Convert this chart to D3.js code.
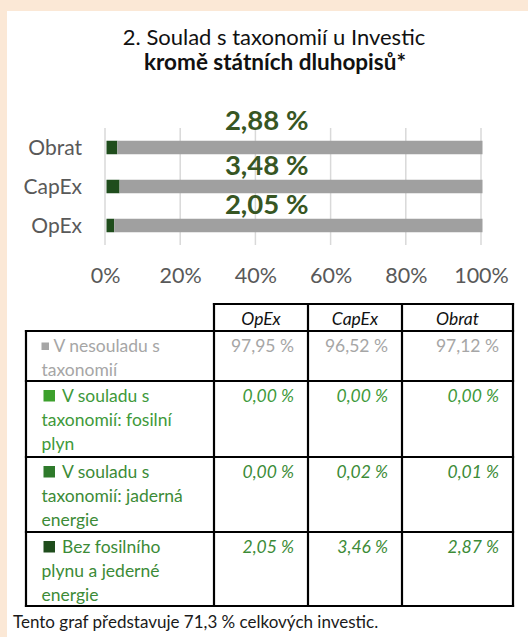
<!DOCTYPE html>
<html>
<head>
<meta charset="utf-8">
<script src="https://cdn.jsdelivr.net/npm/d3@7"></script>
<style>
  html, body { margin: 0; padding: 0; background: #fbe8d6; }
  svg { display: block; }
  text { font-family: Lato, "Open Sans", sans-serif; }
</style>
</head>
<body>
<svg id="chart" width="528" height="637"></svg>
<script>
// Categories (top to bottom in the bar chart) and table columns
const categories = ["Obrat", "CapEx", "OpEx"];
const tableColumns = ["OpEx", "CapEx", "Obrat"];

// Series values in percent, indexed like `categories`
const notAligned   = [97.12, 96.52, 97.95];
const alignedGas   = [0.00, 0.00, 0.00];
const alignedNucl  = [0.01, 0.02, 0.00];
const alignedOther = [2.87, 3.46, 2.05];

const tickValues = [0, 0.2, 0.4, 0.6, 0.8, 1.0];

const titleLine1 = "2. Soulad s taxonomií u Investic";
const titleLine2 = "kromě státních dluhopisů*";
const footnote = "Tento graf představuje 71,3 % celkových investic.";

// Legend/table rows: label lines, series and colours
const seriesRows = [
  { lines: ["V nesouladu s", "taxonomií"], values: notAligned, key: "gray" },
  { lines: ["V souladu s", "taxonomií: fosilní", "plyn"], values: alignedGas, key: "gas" },
  { lines: ["V souladu s", "taxonomií: jaderná", "energie"], values: alignedNucl, key: "nucl" },
  { lines: ["Bez fosilního", "plynu a jederné", "energie"], values: alignedOther, key: "other" }
];

const colors = {
  gray:  { mark: "#a0a0a0", text: "#a6a6a6" },
  gas:   { mark: "#3ca02c", text: "#40993a" },
  nucl:  { mark: "#2e7a2b", text: "#3c8b37" },
  other: { mark: "#1f4d1c", text: "#3c8b37" }
};
const labelColor = "#375623";

const fmt = v => v.toFixed(2).replace(".", ",") + " %";

const svg = d3.select("#chart");

// White panel over the beige page
svg.append("rect").attr("x", 7).attr("y", 11).attr("width", 521).attr("height", 626).attr("fill", "#ffffff");

// Titles
svg.append("text").attr("x", 274).attr("y", 45).attr("text-anchor", "middle")
  .attr("font-size", 22).attr("fill", "#111").text(titleLine1);
svg.append("text").attr("x", 275).attr("y", 69.5).attr("text-anchor", "middle")
  .attr("font-size", 22.5).attr("font-weight", 700).attr("fill", "#111").text(titleLine2);

// Scales
const x = d3.scaleLinear().domain([0, 1]).range([105, 481]);
const y = d3.scaleBand().domain(categories).range([128, 245]);
const barH = 13.5;

// Grid lines + tick labels
const axis = d3.axisBottom(x).tickValues(tickValues).tickFormat(d3.format(".0%")).tickSize(0);
const gx = svg.append("g").attr("transform", "translate(0,283)").call(axis);
gx.select(".domain").remove();
gx.selectAll("text").attr("dy", 0).attr("y", 0).attr("font-size", 21.5)
  .attr("font-family", "Lato, 'Open Sans', sans-serif").attr("fill", "#595959");

svg.append("g").selectAll("line").data(tickValues).join("line")
  .attr("x1", d => x(d)).attr("x2", d => x(d))
  .attr("y1", 128).attr("y2", 245)
  .attr("stroke", "#d9d9d9").attr("stroke-width", 1.5);

// Stacked bars: other-aligned, nuclear, gas, not aligned
const stackOrder = [alignedOther, alignedNucl, alignedGas, notAligned];
const stackColors = [colors.other.mark, colors.nucl.mark, colors.gas.mark, colors.gray.mark];
const table = categories.map((c, i) => {
  const row = { cat: c };
  stackOrder.forEach((s, k) => row["s" + k] = s[i] / 100);
  return row;
});
const stack = d3.stack().keys(stackOrder.map((_, k) => "s" + k));
const layers = stack(table);

svg.append("g").selectAll("g").data(layers).join("g")
  .attr("fill", (d, k) => stackColors[k])
  .selectAll("rect").data(d => d).join("rect")
  .attr("x", d => x(d[0]) + 1.5)
  .attr("width", d => Math.max(0, x(d[1]) - x(d[0])))
  .attr("y", d => y(d.data.cat) + (y.bandwidth() - barH) / 2)
  .attr("height", barH);

// Category labels
svg.append("g").selectAll("text").data(categories).join("text")
  .attr("x", 82).attr("y", d => y(d) + y.bandwidth() / 2 + 7.5)
  .attr("text-anchor", "end").attr("font-size", 21).attr("fill", "#595959")
  .text(d => d);

// Aligned-share labels above each bar
const alignedTotal = categories.map((c, i) => alignedOther[i] + alignedNucl[i] + alignedGas[i]);
const labelNudge = { Obrat: -6, CapEx: 0, OpEx: 0 };
svg.append("g").selectAll("text").data(categories).join("text")
  .attr("x", x(0.43))
  .attr("y", d => y(d) + (y.bandwidth() - barH) / 2 - 5 + labelNudge[d])
  .attr("text-anchor", "middle").attr("font-size", 27.5).attr("font-weight", 700)
  .attr("fill", labelColor)
  .text((d, i) => fmt(alignedTotal[i]));

// ---------- Table ----------
const colX = [26, 214, 308, 402, 513];
const headTop = 304, headBottom = 331;
const rowBounds = [331, 381, 457, 532, 606];
const fs = 17.5;
const tg = svg.append("g");

// Header text
tg.selectAll("text.head").data(tableColumns).join("text").attr("class", "head")
  .attr("x", (d, i) => (colX[i + 1] + colX[i + 2]) / 2)
  .attr("y", headBottom - 6.5)
  .attr("text-anchor", "middle").attr("font-size", fs).attr("font-style", "italic")
  .attr("fill", "#111").text(d => d);

// Row contents
seriesRows.forEach((row, r) => {
  const top = rowBounds[r];
  const c = colors[row.key];
  const base = top + 20.5;
  const isGray = row.key === "gray";
  // legend marker
  const ms = isGray ? 7.5 : 11.5;
  tg.append("rect")
    .attr("x", isGray ? 41.5 : 43.5).attr("y", base - ms - (isGray ? 1.5 : 0))
    .attr("width", ms).attr("height", ms).attr("fill", isGray ? "#a6a6a6" : c.mark);
  row.lines.forEach((line, li) => {
    tg.append("text")
      .attr("x", li === 0 ? (isGray ? 53.5 : 62) : 41.5)
      .attr("y", base + li * 24)
      .attr("font-size", fs).attr("fill", c.text).text(line);
  });
  // values, in table column order
  tableColumns.forEach((col, j) => {
    const i = categories.indexOf(col);
    tg.append("text")
      .attr("x", colX[j + 2] - 14).attr("y", base)
      .attr("text-anchor", "end").attr("font-size", fs)
      .attr("font-style", isGray ? "normal" : "italic")
      .attr("fill", c.text).text(fmt(row.values[i]));
  });
});

// Borders
const bw = 2.2;
const line = (x1, y1, x2, y2) => tg.append("line")
  .attr("x1", x1).attr("y1", y1).attr("x2", x2).attr("y2", y2)
  .attr("stroke", "#000").attr("stroke-width", bw).attr("stroke-linecap", "square");
line(colX[1], headTop, colX[4], headTop);
rowBounds.forEach(yy => line(colX[0], yy, colX[4], yy));
line(colX[0], rowBounds[0], colX[0], rowBounds[4]);
[1, 2, 3, 4].forEach(k => line(colX[k], headTop, colX[k], rowBounds[4]));

// Footnote
svg.append("text").attr("x", 13).attr("y", 628).attr("font-size", 17)
  .attr("fill", "#1a1a1a").text(footnote);
</script>
</body>
</html>
